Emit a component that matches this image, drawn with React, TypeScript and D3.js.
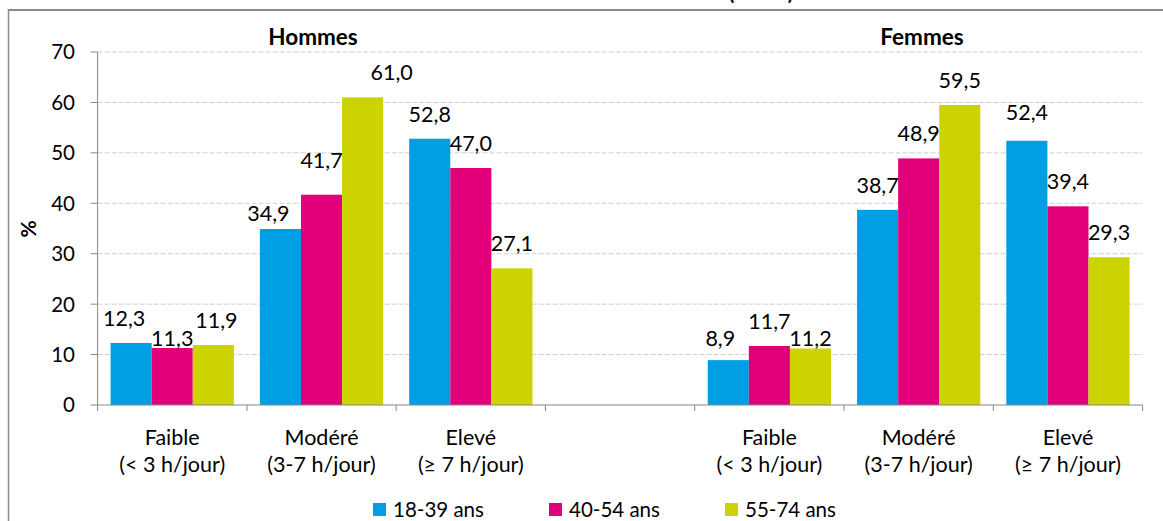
import React from "react";
import * as d3 from "d3";

const categories = ["Faible", "Modéré", "Elevé"];
const categorySub = ["(< 3 h/jour)", "(3-7 h/jour)", "(≥ 7 h/jour)"];
const groups = ["Hommes", "Femmes"];
const series = ["18-39 ans", "40-54 ans", "55-74 ans"];
const colors = ["#009FE3", "#E2007A", "#CCD300"];
// values[category][series]
const hommes = [
  [12.3, 11.3, 11.9],
  [34.9, 41.7, 61.0],
  [52.8, 47.0, 27.1],
];
const femmes = [
  [8.9, 11.7, 11.2],
  [38.7, 48.9, 59.5],
  [52.4, 39.4, 29.3],
];
const yTicks = [0, 10, 20, 30, 40, 50, 60, 70];
// manual label nudges (dx, dy), like the hand-moved labels of the original
const hommesNudge = [
  [[-7, 0], [0, 15], [3, 0]],
  [[-12, 9], [0, -10], [29, 0]],
  [[0, 0], [0, 0], [0, 0]],
];
const femmesNudge = [
  [[-8, 3], [0, 0], [0, 14]],
  [[0, 0], [0, 0], [0, 0]],
  [[0, -4], [0, 0], [0, 0]],
];

const W = 1163;
const H = 521;
const FONT = "Lato, 'Open Sans', sans-serif";

export default function App() {
  const slots = ["H0", "H1", "H2", "gap", "F0", "F1", "F2"];
  const left = 97.6;
  const right = 1142.6;
  const top = 52;
  const bottom = 405;
  const pad = 26 / 149.3;
  const x = d3.scaleBand<string>().domain(slots).range([left, right]).paddingInner(pad).paddingOuter(pad / 2);
  const xs = d3.scaleBand<string>().domain(series).range([0, x.bandwidth()]);
  const y = d3.scaleLinear().domain([0, 70]).range([bottom, top]);
  const step = x.step();

  const data = [
    { key: "H", vals: hommes, nudge: hommesNudge },
    { key: "F", vals: femmes, nudge: femmesNudge },
  ];

  const groupLabelX = [313, 922];
  const legendX0 = 373;
  const legendStep = 176;

  return (
    <svg width={W} height={H} style={{ position: "absolute", left: 0, top: 0, background: "#fff" }} fontFamily={FONT}>
      <rect x={0} y={0} width={W} height={H} fill="#fff" />
      {/* partial title, cut by the top edge as in the original */}
      <text x={761} y={0} textAnchor="middle" fontSize={20} fontWeight="bold" fill="#000">(ENNS)</text>
      {/* frame */}
      <line x1={8.5} x2={W} y1={10} y2={10} stroke="#8a8a8a" strokeWidth={2} />
      <line x1={8.5} x2={8.5} y1={9} y2={H} stroke="#8a8a8a" strokeWidth={1.5} />
      {/* gridlines */}
      {yTicks.filter((t) => t > 0).map((t) => (
        <line key={"g" + t} x1={left} x2={right} y1={y(t)} y2={y(t)} stroke="#cfcfcf" strokeDasharray="5,2" strokeWidth={1} />
      ))}
      {/* bars */}
      {data.map((g) =>
        g.vals.map((row, ci) =>
          row.map((v, si) => (
            <rect
              key={g.key + ci + si}
              x={(x(g.key + ci) as number) + (xs(series[si]) as number)}
              y={y(v)}
              width={xs.bandwidth()}
              height={y(0) - y(v)}
              fill={colors[si]}
            />
          ))
        )
      )}
      {/* value labels */}
      {data.map((g) =>
        g.vals.map((row, ci) =>
          row.map((v, si) => {
            const cx = (x(g.key + ci) as number) + (xs(series[si]) as number) + xs.bandwidth() / 2;
            const [dx, dy] = g.nudge[ci][si];
            return (
              <text key={"l" + g.key + ci + si} x={cx + dx} y={y(v) - 17 + dy} textAnchor="middle" fontSize={21.5} fill="#000">
                {d3.format(".1f")(v).replace(".", ",")}
              </text>
            );
          })
        )
      )}
      {/* axes */}
      <line x1={left} x2={left} y1={top} y2={bottom} stroke="#868686" />
      {yTicks.map((t) => (
        <g key={"yt" + t}>
          <line x1={left - 7} x2={left} y1={y(t)} y2={y(t)} stroke="#868686" />
          <text x={75} y={y(t)} dy="0.36em" textAnchor="end" fontSize={20.5} fill="#000">{t}</text>
        </g>
      ))}
      <line x1={left} x2={right} y1={bottom} y2={bottom} stroke="#868686" />
      {d3.range(slots.length + 1).map((i) => (
        <line key={"xt" + i} x1={left + i * step} x2={left + i * step} y1={bottom} y2={bottom + 6} stroke="#868686" />
      ))}
      {/* category labels */}
      {groups.map((gname, gi) =>
        categories.map((c, ci) => {
          const cx = (x((gi === 0 ? "H" : "F") + ci) as number) + x.bandwidth() / 2;
          return (
            <g key={"c" + gi + ci}>
              <text x={cx} y={445} textAnchor="middle" fontSize={21.5} fill="#000">{c}</text>
              <text x={cx} y={472} textAnchor="middle" fontSize={21.5} fill="#000">{categorySub[ci]}</text>
            </g>
          );
        })
      )}
      {/* group labels */}
      {groups.map((gname, gi) => (
        <text key={gname} x={groupLabelX[gi]} y={45} textAnchor="middle" fontSize={22.5} fontWeight="bold" fill="#000">{gname}</text>
      ))}
      {/* y title */}
      <text transform="translate(36,229) rotate(-90)" textAnchor="middle" fontSize={21} fontWeight="bold" fill="#000">%</text>
      {/* legend */}
      {series.map((s, i) => (
        <g key={s} transform={`translate(${legendX0 + i * legendStep},0)`}>
          <rect x={0} y={503} width={13} height={13} fill={colors[i]} />
          <text x={20} y={517} fontSize={20.5} fill="#000">{s}</text>
        </g>
      ))}
    </svg>
  );
}
